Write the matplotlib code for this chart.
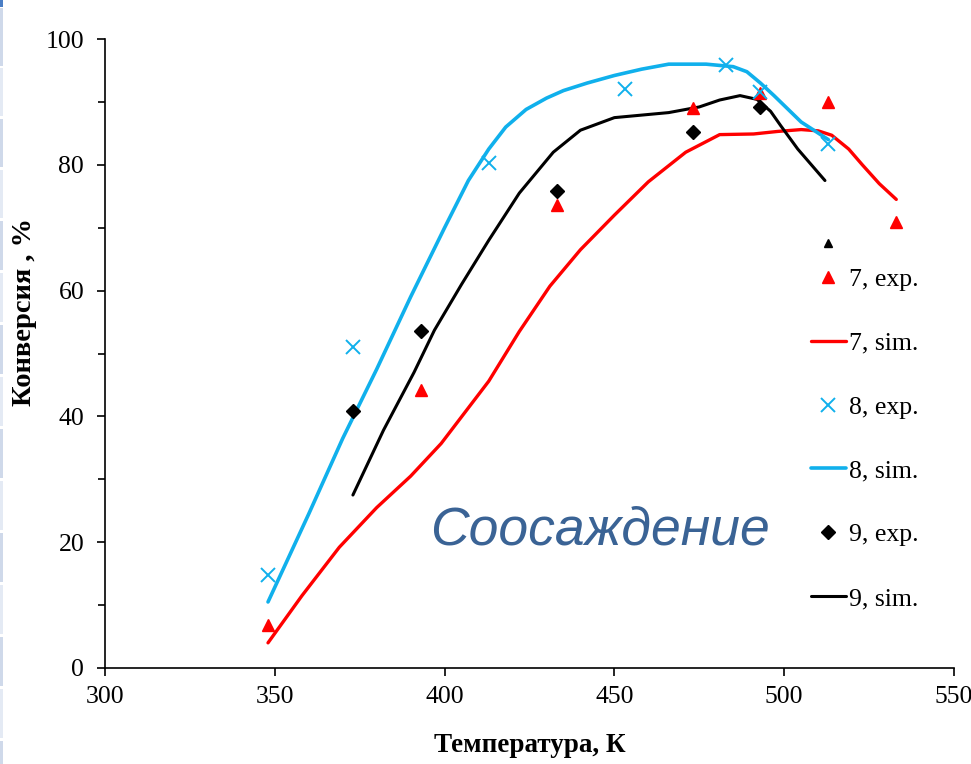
import matplotlib
matplotlib.use("Agg")
import matplotlib.pyplot as plt
from matplotlib.patches import Rectangle
from matplotlib.ticker import MultipleLocator

# ---- data ----
t7_exp = [348, 393, 433, 473, 493, 513, 533]
c7_exp = [6.8, 44.2, 73.6, 89.0, 91.4, 90.0, 70.9]

t7_sim = [348, 358, 369, 380, 390, 399, 413, 422, 431, 440, 450, 460, 471, 481, 491, 498, 505, 510, 514, 519, 523, 528, 533]
c7_sim = [4.0, 11.5, 19.2, 25.5, 30.5, 35.7, 45.6, 53.5, 60.7, 66.5, 72.0, 77.3, 82.0, 84.8, 84.9, 85.3, 85.6, 85.4, 84.7, 82.5, 80.0, 77.0, 74.5]

t8_exp = [348, 373, 413, 453, 483, 493, 513]
c8_exp = [14.8, 51.0, 80.3, 92.0, 95.9, 91.6, 83.3]

t8_sim = [348, 360, 370, 380, 390, 400, 407, 413, 418, 424, 430, 435, 442, 450, 458, 466, 477, 485, 489, 493, 497, 505, 513]
c8_sim = [10.5, 24.5, 36.5, 47.5, 59.0, 70.0, 77.5, 82.5, 86.0, 88.8, 90.6, 91.8, 93.0, 94.2, 95.2, 96.0, 96.0, 95.6, 94.8, 93.0, 91.0, 86.8, 84.0]

t9_exp = [373, 393, 433, 473, 493]
c9_exp = [40.9, 53.6, 75.8, 85.2, 89.2]

t9_sim = [373, 382, 391, 397, 405, 413, 422, 432, 440, 450, 466, 475, 481, 487, 492, 496, 499, 504, 508, 512]
c9_sim = [27.5, 37.8, 47.0, 53.7, 61.0, 68.0, 75.5, 82.0, 85.5, 87.5, 88.3, 89.2, 90.3, 91.0, 90.4, 88.5, 86.2, 82.5, 80.0, 77.5]

stray_t = [513]
stray_c = [67.6]

x_ticks = [300, 350, 400, 450, 500, 550]
y_ticks = [0, 20, 40, 60, 80, 100]

RED = "#ff0000"
CYAN = "#10b0ec"
BLACK = "#000000"

fig = plt.figure(figsize=(9.71, 7.64), dpi=100)
ax = fig.add_axes([105/971, 1-668/764, (954-105)/971, (668-39)/764])

serif = ["Liberation Serif", "DejaVu Serif"]

ax.plot(t7_exp, c7_exp, linestyle="none", marker="^", color=RED, ms=9, label="7, exp.", zorder=4)
ax.plot(t7_sim, c7_sim, color=RED, lw=2.4, label="7, sim.", solid_capstyle="round", solid_joinstyle="round", zorder=3)
ax.plot(t8_exp, c8_exp, linestyle="none", marker="x", color=CYAN, ms=10, mew=1.4, label="8, exp.", zorder=4)
ax.plot(t8_sim, c8_sim, color=CYAN, lw=2.6, label="8, sim.", solid_capstyle="round", solid_joinstyle="round", zorder=3)
ax.plot(t9_exp, c9_exp, linestyle="none", marker="D", color=BLACK, ms=7, label="9, exp.", zorder=4)
ax.plot(t9_sim, c9_sim, color=BLACK, lw=2.2, label="9, sim.", solid_capstyle="round", solid_joinstyle="round", zorder=3)
ax.plot(stray_t, stray_c, linestyle="none", marker="^", color=BLACK, ms=6, zorder=4)

ax.set_xlim(300, 550)
ax.set_ylim(0, 100)
ax.set_xticks(x_ticks)
ax.set_yticks(y_ticks)
ax.yaxis.set_minor_locator(MultipleLocator(10))
for s in ["top", "right"]:
    ax.spines[s].set_visible(False)
for s in ["left", "bottom"]:
    ax.spines[s].set_linewidth(1.2)
ax.tick_params(axis="both", which="major", direction="out", length=6, width=1.2,
               labelsize=18.5)
ax.tick_params(axis="y", which="major", pad=9)
ax.tick_params(axis="x", which="major", pad=7)
ax.tick_params(axis="y", which="minor", direction="out", length=5, width=1.2)
for lab in ax.get_xticklabels() + ax.get_yticklabels():
    lab.set_family(serif)

ax.set_xlabel("Температура, К", family=serif, fontsize=19.5, fontweight="bold")
ax.set_ylabel("Конверсия , %", family=serif, fontsize=20.5, fontweight="bold")
ax.xaxis.set_label_coords((530-105)/849, -(745-668)/629)
ax.yaxis.set_label_coords((25-105)/849, (668-312)/629)
ax.xaxis.label.set_va("center")
ax.yaxis.label.set_va("center")

ax.text(395.7, 21.9, "Соосаждение", fontsize=38.5, style="italic",
        family=["Liberation Sans", "DejaVu Sans"], color="#3a6395", ha="left", va="center")

leg = ax.legend(loc="upper left", bbox_to_anchor=(798/971, 1-255/764), bbox_transform=fig.transFigure,
                frameon=False, prop={"family": serif, "size": 18.5}, labelspacing=1.59,
                handlelength=1.35, handletextpad=0.12, borderpad=0)

# slide side strip
strip = [(0, 7, "#4a7ec5"), (8, 66, "#cfd9ea"), (68, 116, "#e4eaf4"), (119, 167, "#cfd9ea"),
         (170, 218, "#e4eaf4"), (221, 270, "#cfd9ea"), (273, 322, "#e4eaf4"), (325, 374, "#cfd9ea"),
         (377, 426, "#e4eaf4"), (429, 478, "#cfd9ea"), (481, 530, "#e4eaf4"), (533, 582, "#cfd9ea"),
         (585, 634, "#e4eaf4"), (637, 686, "#cfd9ea"), (689, 738, "#e4eaf4"), (741, 764, "#cfd9ea")]
for y0, y1, c in strip:
    fig.patches.append(Rectangle((0, 1-y1/764), 3/971, (y1-y0)/764, transform=fig.transFigure,
                                 facecolor=c, edgecolor="none"))

fig.savefig("out.png", dpi=100)
